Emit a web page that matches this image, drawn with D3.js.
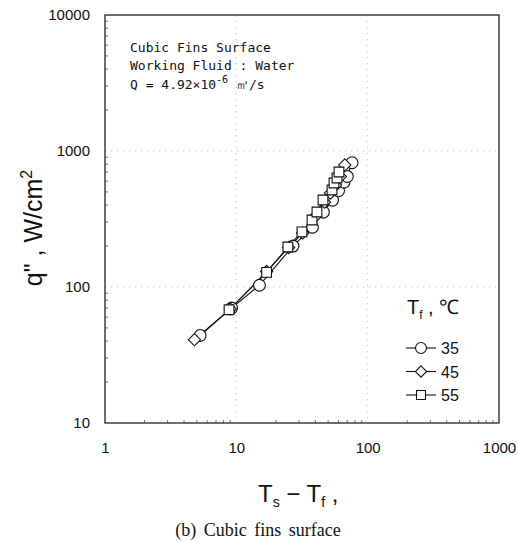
<!DOCTYPE html>
<html><head><meta charset="utf-8">
<script src="https://cdn.jsdelivr.net/npm/d3@7"></script>
<style>
html,body{margin:0;padding:0;background:#fff;}
svg{display:block;}
</style></head>
<body>
<svg id="chart" width="518" height="542"></svg>
<script>
// ---- data ----
const seriesNames = ["35", "45", "55"];
const series35x = [5.3, 9.2, 15.0, 27, 38, 46, 54, 60, 66, 70, 76];
const series35y = [44, 70, 103, 200, 275, 355, 435, 510, 590, 650, 820];
const series45x = [4.8, 9.0, 17, 25, 32, 40, 47, 52, 57, 62, 67];
const series45y = [41, 69, 130, 195, 250, 330, 420, 490, 560, 650, 790];
const series55x = [8.8, 17, 24.7, 31.6, 37.7, 41.1, 45.7, 53.5, 55.4, 58.4, 60.5];
const series55y = [68, 128, 197, 254, 311, 356, 436, 517, 582, 633, 701];
const xTickLabels = ["1", "10", "100", "1000"];
const yTickLabels = ["10", "100", "1000", "10000"];

const svg = d3.select("#chart");
const x = d3.scaleLog().domain([1, 1000]).range([105, 499]);
const y = d3.scaleLog().domain([10, 10000]).range([423, 15]);

// gridlines (dotted, light)
const gridX = [10, 100], gridY = [100, 1000];
svg.append("g").selectAll("line").data(gridX).join("line")
  .attr("x1", d => x(d)).attr("x2", d => x(d)).attr("y1", y(10000)).attr("y2", y(10))
  .attr("stroke", "#bbb").attr("stroke-width", 1).attr("stroke-dasharray", "1,5");
svg.append("g").selectAll("line").data(gridY).join("line")
  .attr("y1", d => y(d)).attr("y2", d => y(d)).attr("x1", x(1)).attr("x2", x(1000))
  .attr("stroke", "#bbb").attr("stroke-width", 1).attr("stroke-dasharray", "1,5");

// minor tick values
const minorX = [], minorY = [];
for (let e = 0; e < 3; e++) for (let k = 2; k <= 9; k++) minorX.push(k * Math.pow(10, e));
for (let e = 1; e < 4; e++) for (let k = 2; k <= 9; k++) minorY.push(k * Math.pow(10, e));

// axes
const xAxis = d3.axisBottom(x).tickValues(xTickLabels.map(Number)).tickFormat(d => xTickLabels[xTickLabels.indexOf(String(d))]).tickSize(0).tickPadding(19);
const gx = svg.append("g").attr("transform", `translate(0,${y(10)})`).call(xAxis);
gx.select(".domain").remove();
gx.selectAll("text").attr("font-family", "Liberation Sans, Arial, sans-serif").attr("font-size", 15).attr("fill", "#111");

const yAxis = d3.axisLeft(y).tickValues(yTickLabels.map(Number)).tickFormat(d => yTickLabels[yTickLabels.indexOf(String(d))]).tickSize(0).tickPadding(15);
const gy = svg.append("g").attr("transform", `translate(${x(1)},0)`).call(yAxis);
gy.select(".domain").remove();
gy.selectAll("text").attr("font-family", "Liberation Sans, Arial, sans-serif").attr("font-size", 15).attr("fill", "#111");

// minor ticks (inward)
svg.append("g").selectAll("line").data(minorX).join("line")
  .attr("x1", d => x(d)).attr("x2", d => x(d)).attr("y1", y(10)).attr("y2", y(10) - 3)
  .attr("stroke", "#555").attr("stroke-width", 0.8);
svg.append("g").selectAll("line").data(minorY).join("line")
  .attr("y1", d => y(d)).attr("y2", d => y(d)).attr("x1", x(1)).attr("x2", x(1) + 3)
  .attr("stroke", "#555").attr("stroke-width", 0.8);

// frame
svg.append("rect").attr("x", x(1)).attr("y", y(10000))
  .attr("width", x(1000) - x(1)).attr("height", y(10) - y(10000))
  .attr("fill", "none").attr("stroke", "#222").attr("stroke-width", 1.3);

// series
const data = [
  {name: seriesNames[0], xs: series35x, ys: series35y, sym: d3.symbolCircle, size: 110},
  {name: seriesNames[1], xs: series45x, ys: series45y, sym: d3.symbolDiamond2, size: 95},
  {name: seriesNames[2], xs: series55x, ys: series55y, sym: d3.symbolSquare, size: 95}
];
const line = d3.line().x(d => x(d[0])).y(d => y(d[1]));
data.forEach(s => {
  const pts = s.xs.map((v, i) => [v, s.ys[i]]);
  svg.append("path").attr("d", line(pts)).attr("fill", "none").attr("stroke", "#111").attr("stroke-width", 1.1);
});
data.forEach(s => {
  const pts = s.xs.map((v, i) => [v, s.ys[i]]);
  svg.append("g").selectAll("path").data(pts).join("path")
    .attr("transform", d => `translate(${x(d[0])},${y(d[1])})`)
    .attr("d", d3.symbol().type(s.sym).size(s.size))
    .attr("fill", "#fff").attr("stroke", "#111").attr("stroke-width", 1.1);
});

// annotation text
const ann = svg.append("g").attr("font-family", "DejaVu Sans Mono, monospace").attr("font-size", 13).attr("fill", "#111");
ann.append("text").attr("x", 130).attr("y", 52).text("Cubic Fins Surface");
ann.append("text").attr("x", 130).attr("y", 70).text("Working Fluid : Water");
const q = ann.append("text").attr("x", 130).attr("y", 89);
q.append("tspan").text("Q = 4.92\u00d710");
q.append("tspan").attr("dy", -6).attr("font-size", 10).text("-6");
q.append("tspan").attr("dy", 6).text(" \u33a5/s");

// legend
const lg = svg.append("g");
const lt = lg.append("text").attr("x", 407).attr("y", 314).attr("font-family", "Liberation Sans, Arial, sans-serif").attr("font-size", 20).attr("fill", "#111");
lt.append("tspan").text("T");
lt.append("tspan").attr("dy", 5).attr("font-size", 12).text("f");
lt.append("tspan").attr("dy", -5).text(" , \u2103");
data.forEach((s, i) => {
  const ly = 348 + i * 23.5;
  lg.append("line").attr("x1", 406).attr("x2", 436).attr("y1", ly).attr("y2", ly).attr("stroke", "#111").attr("stroke-width", 1.1);
  lg.append("path").attr("transform", `translate(421,${ly})`).attr("d", d3.symbol().type(s.sym).size(s.size * 0.85))
    .attr("fill", "#fff").attr("stroke", "#111").attr("stroke-width", 1.1);
  lg.append("text").attr("x", 441).attr("y", ly + 6).attr("font-family", "Liberation Sans, Arial, sans-serif").attr("font-size", 16).attr("fill", "#111").text(s.name);
});

// axis titles
const xt = svg.append("text").attr("x", 258).attr("y", 502).attr("font-family", "Liberation Sans, Arial, sans-serif").attr("font-size", 24).attr("fill", "#111");
xt.append("tspan").text("T");
xt.append("tspan").attr("dy", 5).attr("font-size", 14).text("s");
xt.append("tspan").attr("dy", -5).text("  \u2212  T");
xt.append("tspan").attr("dy", 5).attr("font-size", 14).text("f");
xt.append("tspan").attr("dy", -5).text("   ,");

const yt = svg.append("text").attr("transform", "translate(42,228) rotate(-90)").attr("text-anchor", "middle")
  .attr("font-family", "Liberation Sans, Arial, sans-serif").attr("font-size", 25).attr("fill", "#111");
yt.append("tspan").text("q\"  ,  W/cm");
yt.append("tspan").attr("dy", -10).attr("font-size", 16).text("2");

// caption
svg.append("text").attr("x", 258).attr("y", 536).attr("text-anchor", "middle")
  .attr("font-family", "Liberation Serif, Times New Roman, serif").attr("font-size", 18).attr("fill", "#111")
  .attr("word-spacing", 3).text("(b) Cubic fins surface");
</script>
</body></html>
